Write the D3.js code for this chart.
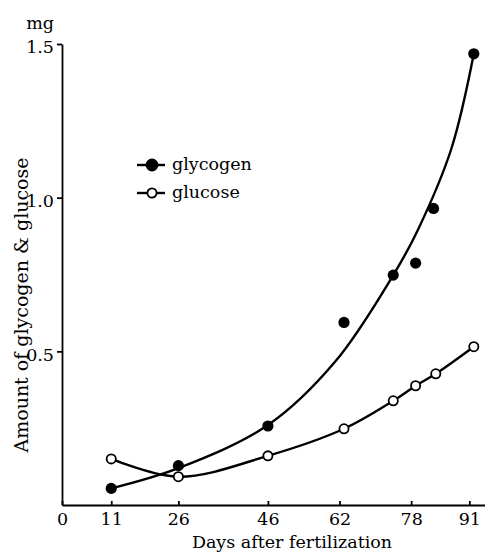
<!DOCTYPE html>
<html>
<head>
<meta charset="utf-8">
<script src="https://cdn.jsdelivr.net/npm/d3@7"></script>
<style>
  body { margin: 0; background: #fff; }
</style>
</head>
<body>
<script>
// values
var glycogenDays = [11, 26, 46, 63, 74, 79, 83, 92];
var glycogen = [0.054, 0.128, 0.257, 0.594, 0.748, 0.787, 0.965, 1.468];

var glucoseDays = [11, 26, 46, 63, 74, 79, 83.5, 92];
var glucose = [0.150, 0.092, 0.160, 0.248, 0.339, 0.388, 0.427, 0.515];

// hand drawn fitted curve for glycogen
var fitDays = [11, 26, 46, 61, 74, 79.5, 87, 92];
var glycogenFit = [0.054, 0.12, 0.26, 0.466, 0.748, 0.895, 1.16, 1.468];

var xTicks = [0, 11, 26, 46, 62, 78, 91];
var yTicks = [0.5, 1.0, 1.5];

var width = 485;
var height = 553;
var font = '"DejaVu Serif", "Liberation Serif", serif';

var svg = d3.select('body')
    .append('svg')
    .attr('width', width)
    .attr('height', height);

var xScale = d3.scaleLinear()
    .domain([0, 94.5])
    .range([62, 485]);

var yScale = d3.scaleLinear()
    .domain([0, 1.5])
    .range([505, 44]);

// axes
var xAxis = d3.axisBottom(xScale)
    .tickValues(xTicks)
    .tickSizeInner(-4)
    .tickSizeOuter(0)
    .tickPadding(8)
    .tickFormat(d3.format('d'));

var gx = svg.append('g')
    .attr('transform', 'translate(0,' + yScale(0) + ')')
    .call(xAxis);

var yAxis = d3.axisLeft(yScale)
    .tickValues(yTicks)
    .tickSize(5)
    .tickSizeOuter(0)
    .tickPadding(3)
    .tickFormat(d3.format('.1f'));

var gy = svg.append('g')
    .attr('transform', 'translate(' + xScale(0) + ',0)')
    .call(yAxis);

gy.selectAll('text').attr('dy', '0.5em');

[gx, gy].forEach(g => {
    g.attr('font-family', null).attr('font-size', null);
    g.selectAll('path, line').attr('stroke', '#000').attr('stroke-width', 1.8);
    g.selectAll('text')
        .style('font-family', font)
        .style('font-size', '17.5px')
        .attr('fill', '#000');
});

svg.append('text')
    .attr('x', 54)
    .attr('y', 29)
    .attr('text-anchor', 'end')
    .style('font-family', font)
    .style('font-size', '17.5px')
    .text('mg');

svg.append('text')
    .attr('x', 292)
    .attr('y', 548)
    .attr('text-anchor', 'middle')
    .style('font-family', font)
    .style('font-size', '17.5px')
    .text('Days after fertilization');

svg.append('text')
    .attr('transform', 'rotate(-90)')
    .attr('x', -305)
    .attr('y', 28)
    .attr('text-anchor', 'middle')
    .style('font-family', font)
    .style('font-size', '19px')
    .text('Amount of glycogen & glucose');

// lines
var fitLine = d3.line()
    .x((d, i) => xScale(fitDays[i]))
    .y(d => yScale(d))
    .curve(d3.curveCatmullRom);

svg.append('path')
    .attr('d', fitLine(glycogenFit))
    .attr('fill', 'none')
    .attr('stroke', '#000')
    .attr('stroke-width', 2.4);

var glucoseLine = d3.line()
    .x((d, i) => xScale(glucoseDays[i]))
    .y(d => yScale(d))
    .curve(d3.curveCatmullRom);

svg.append('path')
    .attr('d', glucoseLine(glucose))
    .attr('fill', 'none')
    .attr('stroke', '#000')
    .attr('stroke-width', 2.4);

// points
svg.selectAll('.gly')
    .data(glycogen)
    .enter()
    .append('circle')
    .attr('class', 'gly')
    .attr('cx', (d, i) => xScale(glycogenDays[i]))
    .attr('cy', d => yScale(d))
    .attr('r', 5.6)
    .attr('fill', '#000');

svg.selectAll('.glu')
    .data(glucose)
    .enter()
    .append('circle')
    .attr('class', 'glu')
    .attr('cx', (d, i) => xScale(glucoseDays[i]))
    .attr('cy', d => yScale(d))
    .attr('r', 4.6)
    .attr('fill', '#fff')
    .attr('stroke', '#000')
    .attr('stroke-width', 1.8);

// legend
var legend = [
    { name: 'glycogen', fill: '#000', r: 5.5, y: 165 },
    { name: 'glucose', fill: '#fff', r: 4.6, y: 193 }
];

var lg = svg.selectAll('.legend')
    .data(legend)
    .enter()
    .append('g')
    .attr('class', 'legend')
    .attr('transform', d => 'translate(137,' + d.y + ')');

lg.append('line')
    .attr('x1', 0)
    .attr('x2', 28)
    .attr('stroke', '#000')
    .attr('stroke-width', 2.4);

lg.append('circle')
    .attr('cx', 15)
    .attr('r', d => d.r)
    .attr('fill', d => d.fill)
    .attr('stroke', '#000')
    .attr('stroke-width', 1.8);

lg.append('text')
    .attr('x', 35)
    .attr('y', 5)
    .style('font-family', font)
    .style('font-size', '17.5px')
    .text(d => d.name);
</script>
</body>
</html>
